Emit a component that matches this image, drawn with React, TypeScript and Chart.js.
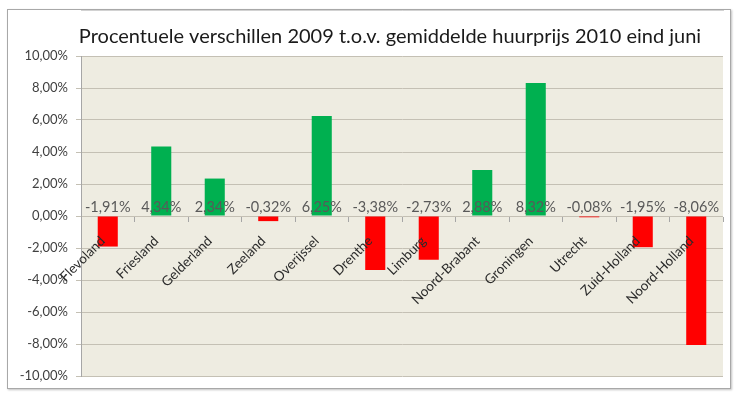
import React, { useEffect, useRef } from "react";
import { Chart, registerables } from "chart.js";
Chart.register(...registerables);

const TITLE = "Procentuele verschillen 2009 t.o.v. gemiddelde huurprijs 2010 eind juni";
const categories = [
  "Flevoland", "Friesland", "Gelderland", "Zeeland", "Overijssel", "Drenthe",
  "Limburg", "Noord-Brabant", "Groningen", "Utrecht", "Zuid-Holland", "Noord-Holland",
];
const values = [-1.91, 4.34, 2.34, -0.32, 6.25, -3.38, -2.73, 2.88, 8.32, -0.08, -1.95, -8.06];
const Y_MIN = -10;
const Y_MAX = 10;
const Y_STEP = 2;
const POS_COLOR = "#00B050";
const NEG_COLOR = "#FF0000";
const FONT = "Lato";

const fmt = (v: number) => v.toFixed(2).replace(".", ",") + "%";

const bgPlugin = {
  id: "plotBg",
  beforeDraw(chart: any) {
    const { ctx, chartArea } = chart;
    ctx.save();
    ctx.fillStyle = "#EEECE1";
    ctx.fillRect(chartArea.left, chartArea.top, chartArea.right - chartArea.left, chartArea.bottom - chartArea.top);
    ctx.restore();
  },
};

const titlePlugin = {
  id: "customTitle",
  afterDraw(chart: any) {
    const { ctx } = chart;
    ctx.save();
    ctx.font = `20px ${FONT}`;
    ctx.fillStyle = "#1a1a1a";
    ctx.textAlign = "center";
    ctx.textBaseline = "middle";
    ctx.fillText(TITLE, 382, 27);
    ctx.restore();
  },
};

const labelPlugin = {
  id: "valueLabels",
  afterDatasetsDraw(chart: any) {
    const { ctx } = chart;
    const meta = chart.getDatasetMeta(0);
    const y0 = chart.scales.y.getPixelForValue(0);
    ctx.save();
    ctx.font = `14.5px ${FONT}`;
    ctx.fillStyle = "#595959";
    ctx.textAlign = "center";
    ctx.textBaseline = "bottom";
    meta.data.forEach((bar: any, i: number) => {
      ctx.fillText(fmt(values[i]), bar.x, y0 - 1);
    });
    ctx.restore();
  },
};

export default function App() {
  const ref = useRef<HTMLCanvasElement | null>(null);
  useEffect(() => {
    if (!ref.current) return;
    const chart = new Chart(ref.current, {
      type: "bar",
      data: {
        labels: categories,
        datasets: [
          {
            data: values,
            backgroundColor: values.map((v) => (v >= 0 ? POS_COLOR : NEG_COLOR)),
            categoryPercentage: 1,
            barPercentage: 0.375,
          },
        ],
      },
      options: {
        animation: false,
        responsive: true,
        maintainAspectRatio: false,
        layout: { padding: { top: 46, right: 7, bottom: 12, left: 0 } },
        plugins: {
          legend: { display: false },
          title: { display: false },
          tooltip: { enabled: false },
        },
        scales: {
          x: {
            position: { y: 0 } as any,
            grid: { drawOnChartArea: false, drawTicks: true, tickLength: 5, color: "#A6A6A6", offset: true, z: 1 },
            border: { color: "#A6A6A6", z: 0 },
            ticks: {
              minRotation: 45,
              maxRotation: 45,
              autoSkip: false,
              font: { family: FONT, size: 13.5 },
              color: "#2b2b2b",
              padding: 12,
              labelOffset: -5,
              z: 1,
            },
          },
          y: {
            min: Y_MIN,
            max: Y_MAX,
            ticks: {
              stepSize: Y_STEP,
              callback: (v: any) => fmt(Number(v)),
              font: { family: FONT, size: 13 },
              color: "#404040",
              padding: 8,
            },
            grid: { color: "#C4C0B4", tickLength: 5, drawTicks: true },
            border: { color: "#A6A6A6" },
            afterFit: (s: any) => {
              s.width = 73;
              s.paddingTop = 0;
              s.paddingBottom = 0;
            },
          },
        },
      },
      plugins: [bgPlugin, labelPlugin, titlePlugin],
    });
    return () => chart.destroy();
  }, []);

  return (
    <div
      style={{
        position: "absolute",
        left: 7,
        top: 9,
        width: 724,
        height: 380,
        border: "1px solid #A8A8A8",
        boxSizing: "border-box",
        background: "#fff",
        boxShadow: "1px 1px 2px rgba(0,0,0,0.25)",
      }}
    >
      <div style={{ position: "relative", width: 722, height: 378 }}>
        <canvas ref={ref} />
      </div>
    </div>
  );
}
